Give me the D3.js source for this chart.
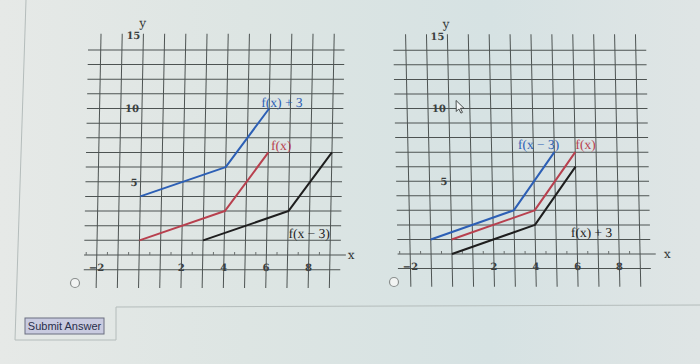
<!DOCTYPE html>
<html>
<head>
<meta charset="utf-8">
<script src="https://cdn.jsdelivr.net/npm/d3@7"></script>
<style>
  html, body { margin: 0; padding: 0; }
  body { width: 700px; height: 364px; overflow: hidden; }
  svg { display: block; }
</style>
</head>
<body>
<div class="shift-graphs"></div>
<script>
// grid + tick values
const gridX = [-2, -1, 0, 1, 2, 3, 4, 5, 6, 7, 8, 9];
const gridY = [-1, 0, 1, 2, 3, 4, 5, 6, 7, 8, 9, 10, 11, 12, 13, 14];
const xTickLabels = [-2, 2, 4, 6, 8];
const yTickLabels = [5, 10, 15];
const minorX = [-2.5, -1.5, -0.5, 0.5, 1.5, 2.5, 3.5, 4.5, 5.5, 6.5, 7.5, 8.5];

// left graph
const leftFplus3 = [[0, 4], [4, 6], [6, 10]];
const leftF = [[0, 1], [4, 3], [6, 7]];
const leftFminus3 = [[3, 1], [7, 3], [9, 7]];

// right graph
const rightFminus3 = [[-1, 1], [3, 3], [5, 7]];
const rightF = [[0, 1], [4, 3], [6, 7]];
const rightFplus3 = [[0, 0], [4, 2], [6, 6]];

const BLUE = '#2c5fb5', RED = '#b8404e', BLACK = '#1e1e1e';

const width = 700, height = 364;

const svg = d3.select('.shift-graphs')
  .append('svg')
  .attr('width', width)
  .attr('height', height)
  .attr('viewBox', '0 0 700 364');

// photo-ish background
const defs = svg.append('defs');
const bg = defs.append('linearGradient').attr('id', 'bg').attr('x1', 0).attr('x2', 1).attr('y1', 0).attr('y2', 0);
bg.append('stop').attr('offset', '0%').attr('stop-color', '#e6e9e7');
bg.append('stop').attr('offset', '35%').attr('stop-color', '#dde5e3');
bg.append('stop').attr('offset', '70%').attr('stop-color', '#d6e2e3');
bg.append('stop').attr('offset', '100%').attr('stop-color', '#dfe5e5');
svg.append('rect').attr('width', width).attr('height', height).attr('fill', 'url(#bg)');

// page frame lines
const frame = svg.append('g').attr('stroke', '#b4bcbb').attr('fill', 'none').attr('stroke-width', 1);
frame.append('line').attr('x1', 26).attr('y1', 0).attr('x2', 15).attr('y2', 340);
frame.append('line').attr('x1', 15).attr('y1', 340).attr('x2', 116).attr('y2', 340);
frame.append('line').attr('x1', 116).attr('y1', 340).attr('x2', 116).attr('y2', 307);
frame.append('line').attr('x1', 116).attr('y1', 307).attr('x2', 700).attr('y2', 305);

function drawGraph(opts) {
  const x = d3.scaleLinear().domain([0, 9]).range([opts.x0, opts.x0 + 9 * opts.unitX]);
  const y = d3.scaleLinear().domain([0, 10]).range([opts.y0, opts.y0 - 10 * opts.unitY]);

  const cy = 160;
  const g = svg.append('g')
    .attr('transform', `translate(0,${cy}) skewX(${opts.skew}) translate(0,${-cy})`);

  // grid
  g.append('g').selectAll('line')
    .data(gridX)
    .join('line')
    .attr('x1', d => x(d)).attr('x2', d => x(d))
    .attr('y1', y(15.1)).attr('y2', y(-2.25))
    .attr('stroke', '#4d5352').attr('stroke-width', 1);

  g.append('g').selectAll('line')
    .data(gridY)
    .join('line')
    .attr('x1', x(-2.6)).attr('x2', d => d === 0 ? x(9.75) : x(9.5))
    .attr('y1', d => y(d)).attr('y2', d => y(d))
    .attr('stroke', '#4d5352').attr('stroke-width', 1);

  // minor ticks on x axis
  g.append('g').selectAll('line')
    .data(minorX)
    .join('line')
    .attr('x1', d => x(d)).attr('x2', d => x(d))
    .attr('y1', y(0)).attr('y2', y(0) - 3)
    .attr('stroke', '#6a6f6e').attr('stroke-width', 1);

  // tick labels
  g.append('g').selectAll('text')
    .data(xTickLabels)
    .join('text')
    .attr('x', d => x(d))
    .attr('y', y(0) + 16)
    .attr('text-anchor', 'middle')
    .attr('font-family', 'DejaVu Serif, serif')
    .attr('font-size', 10)
    .attr('font-weight', 'bold')
    .attr('fill', '#3b3f3f')
    .text(d => d < 0 ? '\u2212' + Math.abs(d) : d);

  g.append('g').selectAll('text')
    .data(yTickLabels)
    .join('text')
    .attr('x', x(0) - 3)
    .attr('y', d => y(d) + 4)
    .attr('text-anchor', 'end')
    .attr('font-family', 'DejaVu Serif, serif')
    .attr('font-size', 10)
    .attr('font-weight', 'bold')
    .attr('fill', '#3b3f3f')
    .text(d => d);

  g.append('text')
    .attr('x', x(0) - 1).attr('y', y(15) - 8)
    .attr('text-anchor', 'middle')
    .attr('font-family', 'DejaVu Serif, serif')
    .attr('font-size', 12)
    .attr('fill', '#2f3333')
    .text('y');

  g.append('text')
    .attr('x', x(opts.xLabelAt)).attr('y', y(0) + 4)
    .attr('text-anchor', 'middle')
    .attr('font-family', 'DejaVu Serif, serif')
    .attr('font-size', 12)
    .attr('fill', '#2f3333')
    .text('x');

  // curves
  const line = d3.line().x(d => x(d[0])).y(d => y(d[1]));
  g.append('g').selectAll('path')
    .data(opts.series)
    .join('path')
    .attr('d', d => line(d.values))
    .attr('fill', 'none')
    .attr('stroke', d => d.color)
    .attr('stroke-width', 2)
    .attr('stroke-linejoin', 'round');

  g.append('g').selectAll('text')
    .data(opts.series)
    .join('text')
    .attr('x', d => x(d.label[0]))
    .attr('y', d => y(d.label[1]))
    .attr('dy', '0.35em')
    .attr('text-anchor', 'middle')
    .attr('font-family', 'Liberation Serif, serif')
    .attr('font-size', 13.5)
    .attr('fill', d => d.color)
    .text(d => d.name);

  // radio button
  svg.append('circle')
    .attr('cx', opts.radio[0]).attr('cy', opts.radio[1]).attr('r', 4.5)
    .attr('fill', '#f2f4f3').attr('stroke', '#8a8f8e').attr('stroke-width', 1.2);

  return { x, y, g };
}

drawGraph({
  x0: 141, unitX: 21.2, y0: 255, unitY: 14.65, skew: -1.1, xLabelAt: 10.0,
  radio: [75, 283],
  series: [
    { name: 'f(x) + 3', values: leftFplus3, color: BLUE, label: [6.6, 10.45] },
    { name: 'f(x)', values: leftF, color: RED, label: [6.6, 7.5] },
    { name: 'f(x \u2212 3)', values: leftFminus3, color: BLACK, label: [8.0, 1.5] }
  ]
});

const right = drawGraph({
  x0: 450, unitX: 20.9, y0: 254, unitY: 14.55, skew: 1.2, xLabelAt: 10.3,
  radio: [394, 282],
  series: [
    { name: 'f(x \u2212 3)', values: rightFminus3, color: BLUE, label: [4.25, 7.56] },
    { name: 'f(x)', values: rightF, color: RED, label: [6.5, 7.56] },
    { name: 'f(x) + 3', values: rightFplus3, color: BLACK, label: [6.7, 1.5] }
  ]
});

// mouse pointer over the right graph
const cx = right.x(0.35), cyP = right.y(10.55);
right.g.append('path')
  .attr('d', `M${cx},${cyP} l0,11 l2.6,-2.6 l2,4.2 l1.6,-0.8 l-2,-4 l3.6,0 z`)
  .attr('fill', '#f4f6f6')
  .attr('stroke', '#3a3f3f')
  .attr('stroke-width', 0.9)
  .attr('stroke-linejoin', 'round');

// submit button
const btn = svg.append('g');
btn.append('rect')
  .attr('x', 25).attr('y', 318).attr('width', 79).attr('height', 16)
  .attr('fill', '#c9cbe0').attr('stroke', '#6b6f80').attr('stroke-width', 1);
btn.append('text')
  .attr('x', 64.5).attr('y', 330)
  .attr('text-anchor', 'middle')
  .attr('font-family', 'Liberation Sans, Arial, sans-serif')
  .attr('font-size', 11)
  .attr('fill', '#2a2f4a')
  .text('Submit Answer');
</script>
</body>
</html>
